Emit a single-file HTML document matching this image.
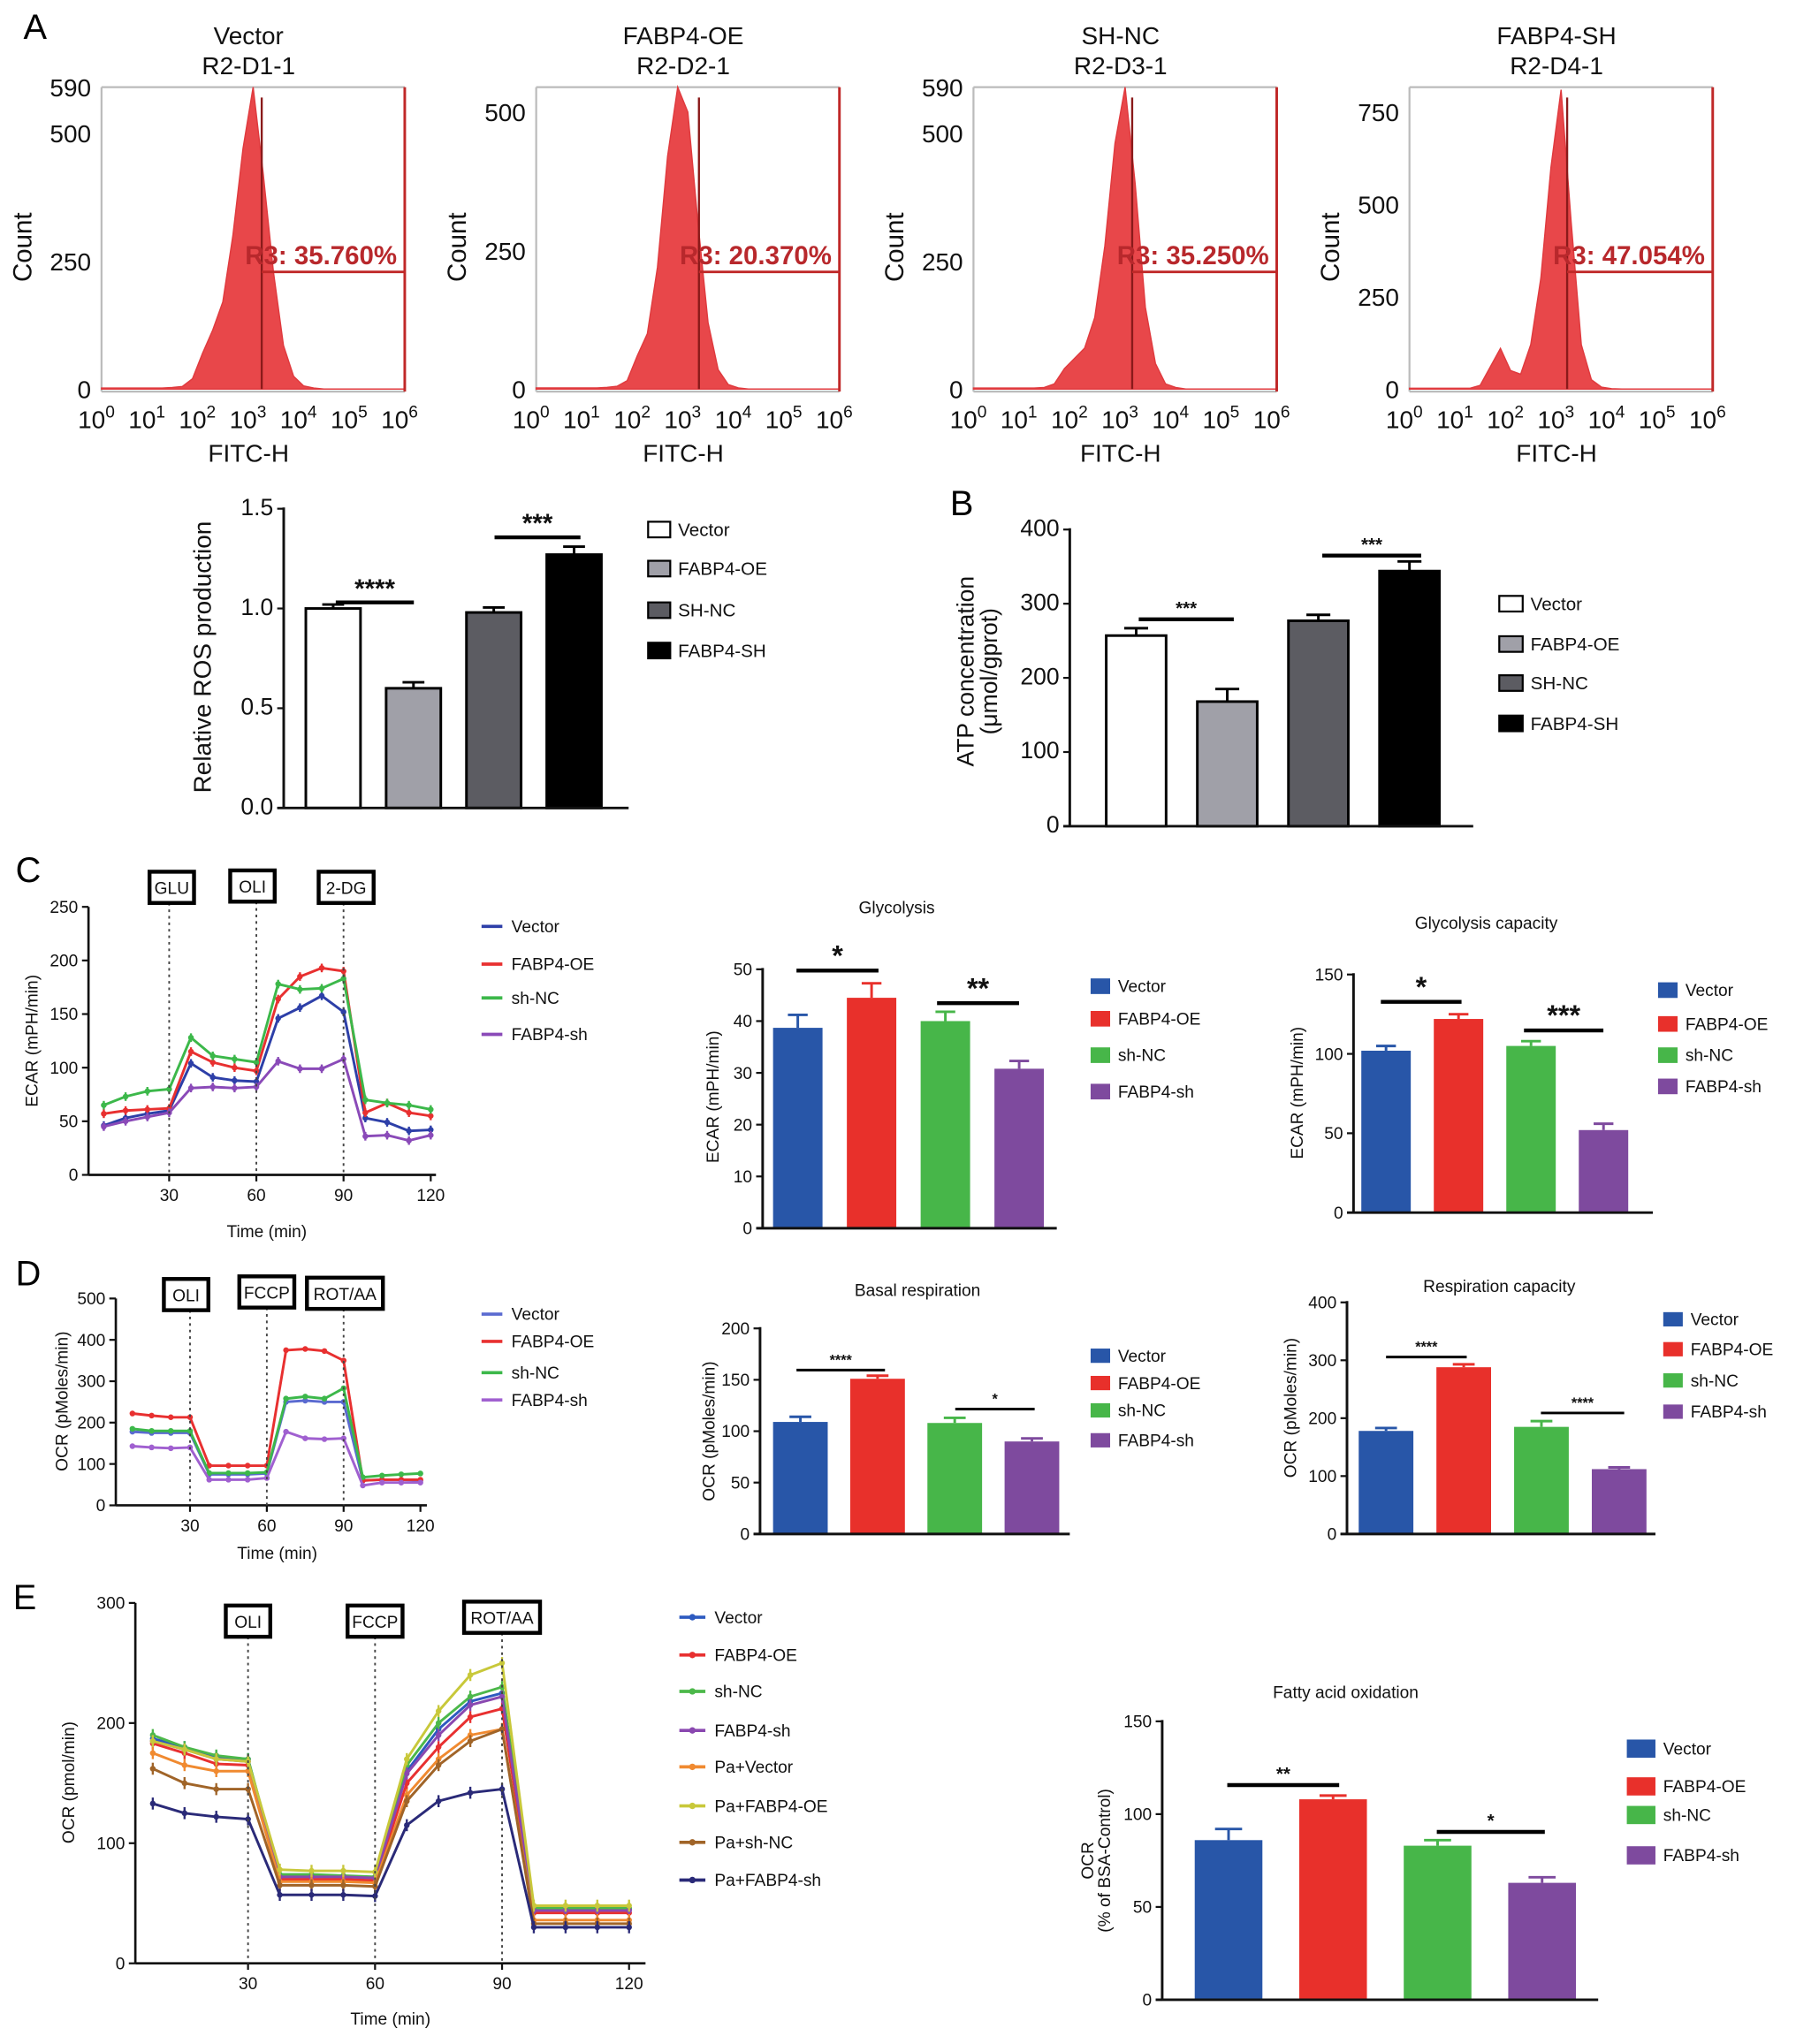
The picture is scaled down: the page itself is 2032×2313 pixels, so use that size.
<!DOCTYPE html>
<html><head><meta charset="utf-8"><style>
html,body{margin:0;padding:0;background:#fff;}
svg{display:block;font-family:"Liberation Sans",Arial,sans-serif;}
</style></head><body>
<svg id="fig" xmlns="http://www.w3.org/2000/svg" width="2032" height="2313" viewBox="0 0 1380 1571" preserveAspectRatio="none">
<text x="18" y="30" font-size="27">A</text>
<text x="730" y="396" font-size="27">B</text>
<text x="12" y="678" font-size="27">C</text>
<text x="12" y="988" font-size="27">D</text>
<text x="10" y="1237" font-size="27">E</text>
</svg>
<script>
// ---------- DATA ----------
const histBins=[0,0.2,0.4,0.6,0.8,1.0,1.2,1.4,1.6,1.8,2.0,2.2,2.4,2.6,2.8,3.0,3.2,3.4,3.6,3.8,4.0,4.2,4.4,6.0];
const histVector=[2,2,2,2,2,2,2,3,5,20,70,115,170,300,470,590,420,230,85,25,6,2,0,0];
const histOE=[2,2,2,2,2,2,2,3,5,15,60,100,220,420,545,500,300,120,35,8,2,0,0,0];
const histSHNC=[2,2,2,2,2,2,2,3,10,40,60,80,140,280,480,590,400,160,50,10,3,0,0,0];
const histSH=[2,2,2,2,2,2,2,10,60,110,50,40,120,300,600,810,450,120,25,5,1,0,0,0];
const histTitles=["Vector","FABP4-OE","SH-NC","FABP4-SH"];
const histIds=["R2-D1-1","R2-D2-1","R2-D3-1","R2-D4-1"];
const histPct=["R3: 35.760%","R3: 20.370%","R3: 35.250%","R3: 47.054%"];
const histMax=[590,545,590,817];
const histTicks=[[0,250,500,590],[0,250,500],[0,250,500,590],[0,250,500,750]];
const histGate=[3.17,3.22,3.14,3.12];

const rosCats=["Vector","FABP4-OE","SH-NC","FABP4-SH"];
const rosVals=[1.0,0.6,0.98,1.27];
const rosErr=[0.02,0.03,0.025,0.04];
const rosTicks=[0,0.5,1.0,1.5];
const atpVals=[257,168,277,344];
const atpErr=[10,17,8,13];
const atpTicks=[0,100,200,300,400];

const cGroups=["Vector","FABP4-OE","sh-NC","FABP4-sh"];
const glyVals=[38.7,44.5,40.0,30.8];
const glyErr=[2.5,2.8,1.8,1.5];
const glyTicks=[0,10,20,30,40,50];
const glyCapVals=[102,122,105,52];
const glyCapErr=[3,3,3,4];
const glyCapTicks=[0,50,100,150];
const basalVals=[109,151,108,90];
const basalErr=[5,3,5,3];
const basalTicks=[0,50,100,150,200];
const respCapVals=[178,288,185,112];
const respCapErr=[5,5,10,3];
const respCapTicks=[0,100,200,300,400];
const faoVals=[86,108,83,63];
const faoErr=[6,2,3,3];
const faoTicks=[0,50,100,150];

const times=[7.5,15,22.5,30,37.5,45,52.5,60,67.5,75,82.5,90,97.5,105,112.5,120];
const ecarVector=[46,53,57,60,104,91,88,87,146,156,167,152,53,49,41,42];
const ecarOE=[57,60,61,62,115,105,100,97,164,185,193,190,58,67,58,55];
const ecarSHNC=[65,73,78,80,128,111,108,105,178,173,174,183,70,67,65,61];
const ecarSH=[45,50,54,58,81,82,81,82,106,99,99,108,36,37,32,37];
const ecarTicks=[0,50,100,150,200,250];
const ocrVector=[178,175,175,175,75,75,75,77,250,253,250,250,60,62,62,60];
const ocrOE=[222,217,213,213,96,96,96,96,375,378,373,350,60,62,62,62];
const ocrSHNC=[185,180,180,180,78,78,78,80,258,263,258,283,68,72,75,77];
const ocrSH=[143,140,138,140,62,62,62,66,178,162,160,162,48,55,55,55];
const ocrTicks=[0,100,200,300,400,500];
const eVector=[187,180,172,170,72,72,72,71,160,195,218,225,45,45,45,45];
const eOE=[183,175,166,165,70,70,70,69,150,180,205,212,42,42,42,42];
const eSHNC=[190,180,173,170,74,74,73,72,165,200,222,230,46,46,46,46];
const eSH=[185,178,170,168,72,72,72,71,158,190,215,222,44,44,44,44];
const ePaVector=[175,165,160,160,68,68,68,67,140,170,190,195,36,36,36,36];
const ePaOE=[185,178,170,168,78,77,77,76,170,210,240,250,48,48,48,48];
const ePaSHNC=[162,150,145,145,65,65,65,64,135,165,185,195,33,33,33,33];
const ePaSH=[133,125,122,120,57,57,57,56,115,135,142,145,30,30,30,30];
const eTicks=[0,100,200,300];
const timeTicks=[30,60,90,120];

// ---------- HELPERS ----------
const NS="http://www.w3.org/2000/svg";
const svg=document.getElementById('fig');
function mk(tag,attrs,name,parent){
  const el=document.createElementNS(NS,tag);
  for(const k in attrs) el.setAttribute(k,attrs[k]);
  
  
  (parent||svg).appendChild(el);
  return el;
}
function txt(x,y,s,size,name,extra){
  const a=Object.assign({x:x,y:y,'font-size':size,'text-anchor':'middle',fill:'#111'},extra||{});
  const t=mk('text',a,name);
  t.textContent=s;
  return t;
}
function line(x1,y1,x2,y2,stroke,w,name,extra){
  return mk('line',Object.assign({x1:x1,y1:y1,x2:x2,y2:y2,stroke:stroke,'stroke-width':w},extra||{}),name);
}
const BAR4=["#2856a8","#e8302b","#47b649","#7e4a9e"];

// ---------- HISTOGRAMS ----------
const histX=[78,412,748,1083], hTop=67, hBot=299, hW=233;
const histData=[histVector,histOE,histSHNC,histSH];
histX.forEach((bx,p)=>{
  const dec=hW/6;
  const xs=v=>bx+v*dec, ys=c=>hBot-c/histMax[p]*(hBot-hTop);
  txt(bx+113,34,histTitles[p],19,'hist-title');
  txt(bx+113,57,histIds[p],19,'hist-sample-id');
  line(bx,hTop,bx+hW,hTop,'#bbb',1.5,'hist-top-border');
  line(bx,hTop,bx,hBot+2,'#bbb',1.5,'hist-y-axis');
  line(bx,hBot+2,bx+hW,hBot+2,'#bbb',1.5,'hist-x-axis');
  let pts=[[xs(0),hBot]];
  histBins.forEach((b,i)=>pts.push([xs(b),ys(histData[p][i])]));
  pts.push([xs(6),hBot]);
  mk('polygon',{points:pts.map(q=>q.join(',')).join(' '),fill:'#e8474a',stroke:'#e03a3e','stroke-width':1},'hist-area');
  const gx=xs(histGate[p]);
  line(gx,hTop+8,gx,hBot,'#8a1a1a',1.6,'gate-marker');
  line(gx,209,bx+hW,209,'#c02828',2,'gate-line');
  line(bx+hW,hTop,bx+hW,hBot+2,'#c02828',2,'gate-right-edge');
  txt(bx+hW-6,203,histPct[p],20,'gate-percentage',{'text-anchor':'end','font-weight':'bold',fill:'#b8282c'});
  histTicks[p].forEach(v=>{
    txt(bx-8,ys(v)+7,String(v),19,'hist-y-tick',{'text-anchor':'end'});
  });
  for(let d=0;d<=6;d++){
    const t=txt(xs(d)-4,329,'10',19,'hist-x-tick');
    const s=mk('tspan',{dy:-8,'font-size':13},'tick-exponent',t);
    s.textContent=String(d);
  }
  txt(bx+113,355,'FITC-H',19,'hist-x-title');
  txt(bx-54,190,'Count',20,'hist-y-title',{transform:`rotate(-90 ${bx-54} 190)`});
});

// ---------- BAR CHART ----------
function barChart(c){
  const ys=v=>c.yb-(v/c.vmax)*(c.yb-c.yt);
  if(c.title) txt(c.titleX,c.titleY,c.title,c.fs,'chart-title');
  c.vals.forEach((v,i)=>{
    const cx=c.c0+i*c.step;
    mk('rect',{x:cx-c.bw/2,y:ys(v),width:c.bw,height:c.yb-ys(v),fill:c.colors[i],stroke:c.outline?'#000':'none','stroke-width':c.outline?2:0},'bar-'+c.key+'-'+i);
    const ec=c.outline?'#000':c.colors[i];
    line(cx,ys(v),cx,ys(v+c.err[i]),ec,2,'error-bar');
    line(cx-c.bw*0.2,ys(v+c.err[i]),cx+c.bw*0.2,ys(v+c.err[i]),ec,2,'error-cap');
  });
  line(c.x0,c.yt-1,c.x0,c.yb,'#111',2,'y-axis');
  line(c.x0-5,c.yb,c.xe,c.yb,'#111',2,'x-axis');
  c.ticks.forEach(v=>{
    line(c.x0-5,ys(v),c.x0,ys(v),'#111',1.5,'y-tick');
    txt(c.x0-8,ys(v)+c.fs*0.35,c.fmt?c.fmt(v):String(v),c.tfs||c.fs,'y-tick-label',{'text-anchor':'end'});
  });
  txt(c.ylx,c.yly,c.ylabel,c.lfs||c.fs,'y-axis-title',{transform:`rotate(-90 ${c.ylx} ${c.yly})`});
  if(c.ylabel2) txt(c.ylx+c.lfs,c.yly,c.ylabel2,c.lfs,'y-axis-title-unit',{transform:`rotate(-90 ${c.ylx+c.lfs} ${c.yly})`});
  c.sig.forEach(s=>{
    line(s[0],s[2],s[1],s[2],'#000',s[4]||3,'significance-bar');
    txt((s[0]+s[1])/2,s[2]-4+(s[5]||0),s[3],s[6]||c.fs,'significance-stars',{'font-weight':'bold'});
  });
  c.legend.forEach((l,i)=>{
    const y=c.ly[i];
    mk('rect',{x:c.lx,y:y-c.lh/2,width:c.lw,height:c.lh,fill:c.colors[i],stroke:c.outline?'#000':'none','stroke-width':1.5},'legend-swatch');
    txt(c.lx+c.lw+6,y+c.fs*0.35,l,c.fs,'legend-entry',{'text-anchor':'start'});
  });
}

barChart({key:'ros',vals:rosVals,err:rosErr,ticks:rosTicks,vmax:1.5,yt:391,yb:621,x0:218,xe:483,c0:256,step:61.7,bw:42,
  colors:['#fff','#a0a0a8','#5c5c62','#000'],outline:true,fs:14,tfs:18,fmt:v=>v.toFixed(1),
  ylabel:'Relative ROS production',ylx:162,yly:505,lfs:19,
  sig:[[258,318,463,'****',3,0,20],[380,446,413,'***',3,0,20]],
  legend:rosCats,lx:498,lw:17,lh:12,ly:[407,437,469,500]});
barChart({key:'atp',vals:atpVals,err:atpErr,ticks:atpTicks,vmax:400,yt:407,yb:635,x0:822,xe:1132,c0:873,step:70,bw:46,
  colors:['#fff','#a0a0a8','#5c5c62','#000'],outline:true,fs:14,tfs:18,
  ylabel:'ATP concentration',ylabel2:'(μmol/gprot)',ylx:748,yly:516,lfs:18,
  sig:[[875,948,476,'***',3,0,14],[1016,1092,427,'***',3,0,14]],
  legend:rosCats,lx:1152,lw:18,lh:12,ly:[464,495,525,556]});
barChart({key:'glycolysis',title:'Glycolysis',titleX:689,titleY:702,vals:glyVals,err:glyErr,ticks:glyTicks,vmax:50,yt:745,yb:944,x0:586,xe:812,c0:613,step:56.7,bw:38,
  colors:BAR4,fs:13,ylabel:'ECAR (mPH/min)',ylx:552,yly:843,lfs:13,
  sig:[[612,675,746,'*',3,0,22],[720,783,771,'**',3,0,22]],
  legend:cGroups,lx:838,lw:15,lh:12,ly:[758,783,811,839]});
barChart({key:'glycolysis-capacity',title:'Glycolysis capacity',titleX:1142,titleY:714,vals:glyCapVals,err:glyCapErr,ticks:glyCapTicks,vmax:150,yt:749,yb:932,x0:1040,xe:1270,c0:1065,step:55.7,bw:38,
  colors:BAR4,fs:13,ylabel:'ECAR (mPH/min)',ylx:1001,yly:840,lfs:13,
  sig:[[1061,1123,770,'*',3,0,22],[1171,1232,792,'***',3,0,22]],
  legend:cGroups,lx:1274,lw:15,lh:12,ly:[761,787,811,835]});
barChart({key:'basal-respiration',title:'Basal respiration',titleX:705,titleY:996,vals:basalVals,err:basalErr,ticks:basalTicks,vmax:200,yt:1021,yb:1179,x0:584,xe:822,c0:615,step:59.3,bw:42,
  colors:BAR4,fs:13,ylabel:'OCR (pMoles/min)',ylx:549,yly:1100,lfs:13,
  sig:[[612,680,1053,'****',2,0,11],[734,795,1083,'*',2,0,11]],
  legend:cGroups,lx:838,lw:15,lh:11,ly:[1042,1063,1084,1107]});
barChart({key:'respiration-capacity',title:'Respiration capacity',titleX:1152,titleY:993,vals:respCapVals,err:respCapErr,ticks:respCapTicks,vmax:400,yt:1001,yb:1179,x0:1035,xe:1272,c0:1065,step:59.7,bw:42,
  colors:BAR4,fs:13,ylabel:'OCR (pMoles/min)',ylx:996,yly:1082,lfs:13,
  sig:[[1065,1127,1043,'****',2,0,11],[1184,1248,1086,'****',2,0,11]],
  legend:cGroups,lx:1278,lw:15,lh:11,ly:[1014,1037,1061,1085]});
barChart({key:'fatty-acid-oxidation',title:'Fatty acid oxidation',titleX:1034,titleY:1305,vals:faoVals,err:faoErr,ticks:faoTicks,vmax:150,yt:1323,yb:1537,x0:893,xe:1228,c0:944,step:80.3,bw:52,
  colors:BAR4,fs:13,ylabel:'OCR',ylabel2:'(% of BSA-Control)',ylx:840,yly:1430,lfs:13,
  sig:[[943,1029,1372,'**',3,0,14],[1104,1187,1408,'*',3,0,14]],
  legend:cGroups,lx:1250,lw:22,lh:14,ly:[1344,1373,1395,1426]});

// ---------- LINE CHART ----------
function lineChart(c){
  const xs=t=>c.xa+c.ppm*t, ys=v=>c.yb-(v/c.vmax)*(c.yb-c.yt);
  c.series.forEach((s,si)=>{
    const d=s.map((v,i)=>(i?'L':'M')+xs(times[i]).toFixed(1)+' '+ys(v).toFixed(1)).join(' ');
    mk('path',{d:d,fill:'none',stroke:c.colors[si],'stroke-width':2},'series-line-'+c.names[si]);
    s.forEach((v,i)=>{
      const e=c.err;
      line(xs(times[i]),ys(v-e),xs(times[i]),ys(v+e),c.colors[si],1.6,'error-bar');
      mk('circle',{cx:xs(times[i]),cy:ys(v),r:2.2,fill:c.colors[si]},'data-point');
    });
  });
  line(c.x0,c.yt,c.x0,c.yb,'#111',1.8,'y-axis');
  line(c.x0,c.yb,c.xe,c.yb,'#111',1.8,'x-axis');
  c.ticks.forEach(v=>{
    line(c.x0-5,ys(v),c.x0,ys(v),'#111',1.5,'y-tick');
    txt(c.x0-8,ys(v)+c.fs*0.35,String(v),c.fs,'y-tick-label',{'text-anchor':'end'});
  });
  timeTicks.forEach(t=>{
    line(xs(t),c.yb,xs(t),c.yb+5,'#111',1.5,'x-tick');
    txt(xs(t),c.yb+c.fs+7,String(t),c.fs,'x-tick-label');
  });
  txt(c.txX,c.txY,'Time (min)',c.fs,'x-axis-title');
  txt(c.ylx,c.yly,c.ylabel,c.fs,'y-axis-title',{transform:`rotate(-90 ${c.ylx} ${c.yly})`});
  c.boxes.forEach(b=>{
    const x=xs(b[1]);
    line(x,b[2]+12,x,c.yb,'#444',1.3,'injection-line',{'stroke-dasharray':'2,3'});
    const w=b[0].length*c.fs*0.62+10;
    mk('rect',{x:x-w/2+(b[3]||0),y:b[2]-12,width:w,height:24,fill:'#fff',stroke:'#000','stroke-width':3},'injection-box');
    txt(x+(b[3]||0),b[2]+5,b[0],c.fs,'injection-label');
  });
  c.names.forEach((n,i)=>{
    const y=c.ly[i];
    line(c.lx,y,c.lx+c.llw,y,c.colors[i],2.5,'legend-line');
    if(c.ldot) mk('circle',{cx:c.lx+c.llw/2,cy:y,r:2.5,fill:c.colors[i]},'legend-marker');
    txt(c.lx+c.llw+7,y+c.fs*0.35,n,c.fs,'legend-entry',{'text-anchor':'start'});
  });
}
const col4=["#2d3fa8","#e83030","#3cb84a","#8a4ab8"];
lineChart({series:[ecarVector,ecarOE,ecarSHNC,ecarSH],names:cGroups,colors:col4,err:4,
  xa:63,ppm:2.233,x0:68,xe:335,yt:697,yb:903,vmax:250,ticks:ecarTicks,fs:13,
  txX:205,txY:951,ylx:29,yly:800,ylabel:'ECAR (mPH/min)',
  boxes:[['GLU',30,682,2],['OLI',60,681,-3],['2-DG',90,682,2]],
  lx:370,llw:16,ly:[712,741,767,795]});
lineChart({series:[ocrVector,ocrOE,ocrSHNC,ocrSH],names:cGroups,colors:["#5a6ad0","#e83030","#3cb84a","#a060d0"],err:5,
  xa:87,ppm:1.967,x0:89,xe:328,yt:998,yb:1157,vmax:500,ticks:ocrTicks,fs:13,
  txX:213,txY:1198,ylx:52,yly:1077,ylabel:'OCR (pMoles/min)',
  boxes:[['OLI',30,995,-3],['FCCP',60,993,0],['ROT/AA',90,994,1]],
  lx:370,llw:16,ly:[1010,1031,1055,1076]});
lineChart({series:[eVector,eOE,eSHNC,eSH,ePaVector,ePaOE,ePaSHNC,ePaSH],
  names:["Vector","FABP4-OE","sh-NC","FABP4-sh","Pa+Vector","Pa+FABP4-OE","Pa+sh-NC","Pa+FABP4-sh"],
  colors:["#2d5ac0","#e83030","#4cb84a","#8a48b0","#f08a30","#c8c83a","#a06428","#2a2a78"],err:5,
  xa:93,ppm:3.253,x0:104,xe:496,yt:1232,yb:1509,vmax:300,ticks:eTicks,fs:13,
  txX:300,txY:1556,ylx:57,yly:1370,ylabel:'OCR (pmol/min)',
  boxes:[['OLI',30,1246,0],['FCCP',60,1246,0],['ROT/AA',90,1243,0]],
  lx:522,llw:20,ldot:true,ly:[1243,1272,1300,1330,1358,1388,1416,1445]});
</script>
</body></html>
